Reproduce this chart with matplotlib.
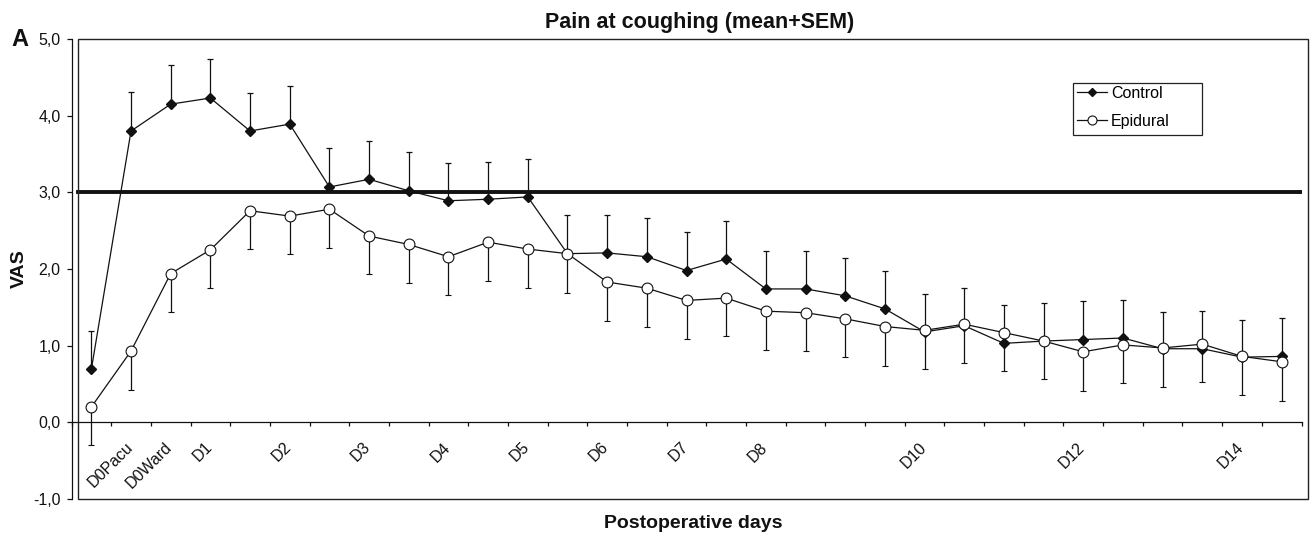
import matplotlib
matplotlib.use("Agg")
import matplotlib.pyplot as plt
from matplotlib.lines import Line2D
from matplotlib.patches import Rectangle
from matplotlib.transforms import ScaledTranslation
import numpy as np

plt.rcParams['font.family'] = ['Liberation Sans', 'DejaVu Sans']

# ---------------- data ----------------
control_mean = [0.69, 3.80, 4.15, 4.23, 3.80, 3.89, 3.07, 3.17, 3.02, 2.89,
                2.91, 2.94, 2.20, 2.21, 2.16, 1.98, 2.13, 1.74, 1.74, 1.65,
                1.48, 1.18, 1.26, 1.03, 1.06, 1.08, 1.10, 0.96, 0.96, 0.85,
                0.86]
control_sem = [0.50, 0.51, 0.51, 0.51, 0.50, 0.50, 0.51, 0.50, 0.50, 0.49,
               0.49, 0.50, 0.51, 0.50, 0.50, 0.50, 0.49, 0.50, 0.50, 0.50,
               0.50, 0.50, 0.49, 0.50, 0.50, 0.50, 0.50, 0.48, 0.49, 0.48,
               0.50]
epidural_mean = [0.20, 0.93, 1.94, 2.25, 2.76, 2.69, 2.78, 2.43, 2.32, 2.16,
                 2.35, 2.26, 2.20, 1.83, 1.75, 1.59, 1.62, 1.45, 1.43, 1.35,
                 1.25, 1.20, 1.28, 1.17, 1.06, 0.92, 1.01, 0.97, 1.02, 0.86,
                 0.79]
epidural_sem = [0.50, 0.51, 0.50, 0.50, 0.50, 0.50, 0.51, 0.50, 0.50, 0.50,
                0.51, 0.51, 0.51, 0.51, 0.51, 0.50, 0.50, 0.50, 0.50, 0.50,
                0.51, 0.50, 0.51, 0.50, 0.50, 0.51, 0.50, 0.51, 0.50, 0.50,
                0.51]
day_labels = ['D0Pacu', 'D0Ward', 'D1', 'D2', 'D3', 'D4', 'D5', 'D6', 'D7',
              'D8', 'D10', 'D12', 'D14']
day_label_index = [0, 1, 2, 4, 6, 8, 10, 12, 14, 16, 20, 24, 28]
y_ticks = [-1.0, 0.0, 1.0, 2.0, 3.0, 4.0, 5.0]
threshold = 3.0
series_names = ['Control', 'Epidural']

# ---------------- figure ----------------
W, H = 1314, 536
fig = plt.figure(figsize=(W / 100, H / 100), dpi=100)
ax = fig.add_axes([71.5 / W, 37 / H, 1230 / W, 460 / H])
ax.patch.set_alpha(0)

n = len(control_mean)
x = np.arange(n)
ax.set_xlim(-0.5, n - 0.5)
ax.set_ylim(-1, 5)

ink = '#111111'

# plot-area border (offset from axis like the original)
fig.patches.append(Rectangle((78.3 / W, 37 / H), 1230 / W, 460 / H,
                             transform=fig.transFigure, fill=False,
                             lw=1.0, ec='#222222', zorder=0))

# spines
for s in ['top', 'right']:
    ax.spines[s].set_visible(False)
ax.spines['bottom'].set_position(('data', 0))
ax.spines['bottom'].set_linewidth(0.9)
ax.spines['left'].set_linewidth(0.9)
ax.spines['bottom'].set_color(ink)
ax.spines['left'].set_color(ink)

# threshold line
ax.axhline(threshold, xmin=6.8 / 1230, xmax=1, color=ink, lw=2.8, zorder=2)

# series
zeros = np.zeros(n)
ax.errorbar(x, control_mean, yerr=[zeros, control_sem], fmt='-D', color=ink,
            ms=5.2, lw=0.9, elinewidth=0.9, capsize=2.5, capthick=0.9,
            zorder=3)
ax.errorbar(x, epidural_mean, yerr=[epidural_sem, zeros], fmt='-o', color=ink,
            mfc='white', mec=ink, ms=7.8, mew=0.8, lw=0.9, elinewidth=0.9,
            capsize=2.5, capthick=0.9, zorder=4)

# x ticks at category boundaries
ax.set_xticks(np.arange(-0.5, n, 1.0))
ax.set_xticklabels([])
ax.tick_params(axis='x', direction='out', length=3, width=0.9, color=ink)

offset = ScaledTranslation(0.39, -0.225, fig.dpi_scale_trans)
for idx, lab in zip(day_label_index, day_labels):
    ax.text(idx, 0, lab, transform=ax.transData + offset, rotation=45,
            rotation_mode='anchor', ha='right', va='center', fontsize=11.5,
            color=ink)

# y ticks
ax.set_yticks(y_ticks)
ax.set_yticklabels([f'{v:.1f}'.replace('.', ',') for v in y_ticks],
                   fontsize=11.5, color=ink)
ax.tick_params(axis='y', direction='out', length=3.6, width=0.9, pad=4.2,
               color=ink)

# texts
fig.text(699.7 / W, 1 - 27.7 / H, 'Pain at coughing (mean+SEM)',
         ha='center', va='baseline', fontsize=15.5, fontweight='bold',
         color=ink)
fig.text(693.3 / W, 1 - 528.3 / H, 'Postoperative days', ha='center',
         va='baseline', fontsize=14, fontweight='bold', color=ink)
fig.text(24 / W, 1 - 268.5 / H, 'VAS', rotation=90, rotation_mode='anchor',
         ha='center', va='baseline', fontsize=14, fontweight='bold',
         color=ink)
fig.text(11 / W, 1 - 46 / H, 'A', ha='left', va='baseline', fontsize=17,
         fontweight='bold', color=ink)

# legend
handles = [Line2D([], [], color=ink, marker='D', ms=4.5, lw=0.9),
           Line2D([], [], color=ink, marker='o', mfc='white', mec=ink,
                  ms=6.5, mew=0.8, lw=0.9)]
fig.legend(handles, series_names, loc='upper left',
           bbox_to_anchor=(1076.7 / W, 1 - 86 / H),
           bbox_transform=fig.transFigure, frameon=False, fontsize=11.5,
           handlelength=1.9, handletextpad=0.25, labelspacing=0.8,
           borderpad=0, borderaxespad=0)
fig.patches.append(Rectangle((1072.7 / W, 1 - 134.7 / H), 129.3 / W,
                             51.4 / H, transform=fig.transFigure, fill=False,
                             lw=0.9, ec='#222222'))

fig.savefig('out.png', dpi=100)
